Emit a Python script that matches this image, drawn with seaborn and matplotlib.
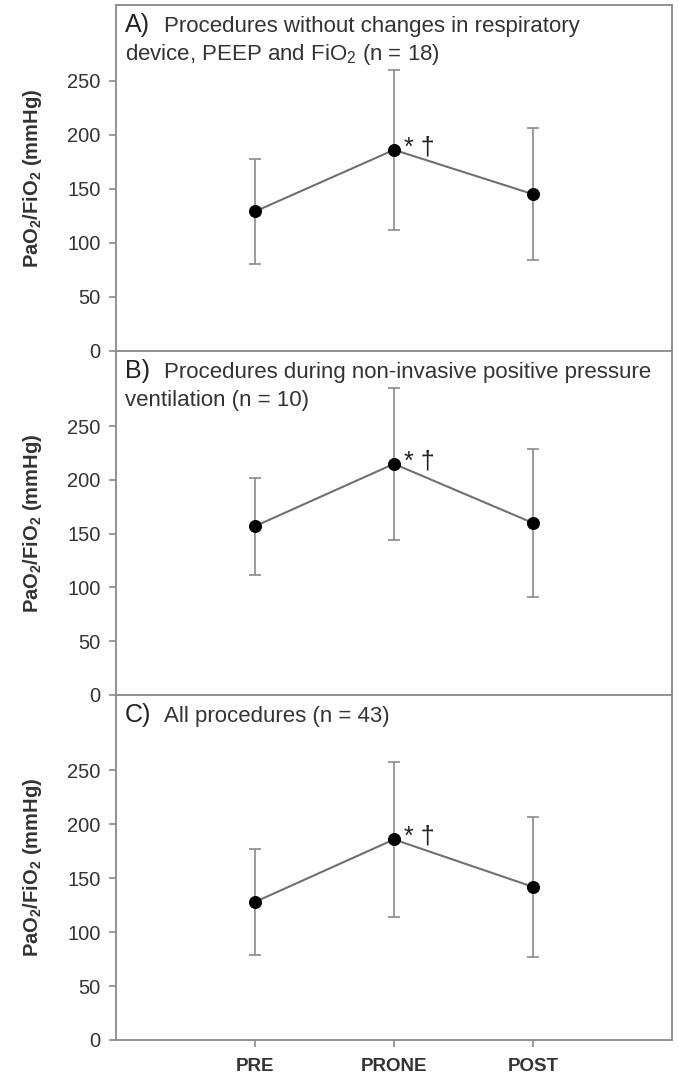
import numpy as np
import pandas as pd
import matplotlib
matplotlib.use("Agg")
import matplotlib.pyplot as plt
import seaborn as sns

sns.set_style("ticks")
plt.rcParams['font.family'] = ['Liberation Sans', 'DejaVu Sans']
plt.rcParams['mathtext.fontset'] = 'custom'
plt.rcParams['mathtext.rm'] = 'Liberation Sans'
plt.rcParams['mathtext.it'] = 'Liberation Sans:italic'
plt.rcParams['mathtext.bf'] = 'Liberation Sans:bold'

# PaO2/FiO2 mean and SD per phase
phases = ["PRE", "PRONE", "POST"]
a_mean = [129, 186, 145]
a_sd = [49, 74, 61]
b_mean = [157, 215, 160]
b_sd = [45, 71, 69]
c_mean = [128, 186, 142]
c_sd = [49, 72, 65]

letters = ["A)", "B)", "C)"]
first_lines = ["Procedures without changes in respiratory",
               "Procedures during non-invasive positive pressure",
               "All procedures (n = 43)"]
second_lines = ["device, PEEP and FiO$_2$ (n = 18)",
                "ventilation (n = 10)",
                ""]
yticks = [0, 50, 100, 150, 200, 250]

fig = plt.figure(figsize=(6.79, 10.76), dpi=100)
left, width = 0.1708, 0.8189
boxes = [(0.6738, 0.3216), (0.3541, 0.3197), (0.0335, 0.3206)]

panels = [(a_mean, a_sd), (b_mean, b_sd), (c_mean, c_sd)]
grey = '#8a8a8a'
txt = '#333333'

for i, (means, sds) in enumerate(panels):
    ax = fig.add_axes([left, boxes[i][0], width, boxes[i][1]])
    df = pd.DataFrame({'x': np.arange(len(phases)), 'mean': means, 'sd': sds})

    sns.lineplot(data=df, x='x', y='mean', color='#707070', lw=1.5, ax=ax, zorder=2)
    ax.errorbar(df['x'], df['mean'], yerr=df['sd'], fmt='none', ecolor=grey,
                elinewidth=1.2, capsize=4.5, capthick=1.2, zorder=1)
    sns.scatterplot(data=df, x='x', y='mean', color='black', s=75, edgecolor='black',
                    ax=ax, zorder=3)

    # significance marks next to PRONE
    ax.annotate("* †", xy=(1, means[1]), xytext=(7, -3), textcoords='offset points',
                fontsize=18, color='#222222', va='baseline', ha='left')

    ax.set_xlim(-1, 3)
    ax.set_ylim(0, 320)
    ax.set_yticks(yticks)
    ax.set_xticks(df['x'])
    ax.set_xticklabels(phases, fontweight='bold', fontsize=13.5, color=txt)
    ax.set_xlabel('')
    ax.set_ylabel(r'PaO$_\mathbf{2}$/FiO$_\mathbf{2}$ (mmHg)', fontweight='bold',
                  fontsize=14.5, color=txt)
    ax.yaxis.set_label_coords(-0.13, 0.5)
    ax.tick_params(axis='y', labelsize=14.5, labelcolor=txt, color=grey, length=5,
                   width=1.2, pad=6)
    ax.tick_params(axis='x', color=grey, length=5, width=1.2, pad=8)
    if i < 2:
        ax.tick_params(axis='x', bottom=False, labelbottom=False)
    for sp in ax.spines.values():
        sp.set_visible(True)
        sp.set_color(grey)
        sp.set_linewidth(1.3)

    ax.text(0.016, 1 - 27 / 345, letters[i], transform=ax.transAxes, fontsize=18,
            color='#222222', va='baseline', ha='left')
    ax.text(0.086, 1 - 27 / 345, first_lines[i], transform=ax.transAxes, fontsize=16,
            color=txt, va='baseline', ha='left')
    if second_lines[i]:
        ax.text(0.016, 1 - 55 / 345, second_lines[i], transform=ax.transAxes, fontsize=16,
                color=txt, va='baseline', ha='left')

fig.savefig("out.png", dpi=100)
